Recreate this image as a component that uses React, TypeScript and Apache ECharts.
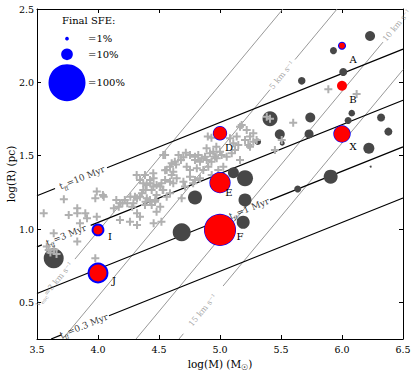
import React, { useEffect, useRef } from "react";
import * as echarts from "echarts";

// ---------------- data ----------------
const xTicks = [3.5, 4.0, 4.5, 5.0, 5.5, 6.0, 6.5];
const yTicks = [0.5, 1.0, 1.5, 2.0, 2.5];

// light-grey crosses (log M, log R)
const crossLogM = [
  3.555, 3.637, 3.596, 3.61, 3.64, 3.66, 3.58, 3.76, 3.83, 3.896, 3.91, 3.83, 3.978, 3.99, 3.72, 3.852,
  4.13, 4.18, 4.24, 4.28, 4.32, 4.39, 4.44, 4.456, 4.32, 4.344, 4.262, 4.48, 4.385, 4.426, 4.467, 4.18, 4.52,
  3.99, 4.047, 3.978, 3.83, 4.04, 4.15,
  4.22, 4.265, 4.29, 4.32, 4.17, 4.2, 4.36, 4.39, 4.40, 4.43, 4.44, 4.47, 4.55, 4.55, 4.51, 4.53, 4.456, 4.48, 4.52,
  4.344, 4.48, 4.51, 4.59, 4.617, 4.713, 4.686, 4.78,
  4.317, 4.344, 4.399, 4.454, 4.371, 4.303, 4.535, 4.563, 4.604,
  4.385, 4.426, 4.371,
  4.55, 4.63, 4.59, 4.617, 4.563, 4.727, 4.754, 4.81, 4.863, 4.904, 4.754, 4.795, 4.836, 4.604, 4.645, 4.59, 4.70,
  4.754, 4.795, 4.822, 4.85, 4.877, 4.795, 4.836, 4.891, 4.918, 4.945, 4.959, 5.0,
  4.93, 4.89, 4.97,
  4.93, 4.973, 5.014, 5.055, 5.096, 5.123, 5.15, 5.027, 4.986, 4.932,
  5.178, 5.137, 5.219, 5.273, 5.205, 5.246, 5.30, 5.232, 5.164, 5.082, 5.109,
  5.164, 5.246, 5.41, 5.60, 5.273, 5.45, 5.506, 5.383,
  5.888, 6.12,
  4.535, 4.453, 4.70, 4.68, 4.66, 4.72, 4.64, 4.9,
];
const crossLogR = [
  1.107, 0.971, 0.857, 0.84, 0.86, 0.83, 0.88, 1.096, 1.107, 1.107, 1.073, 0.914, 0.80, 1.084, 1.203, 1.039,
  1.141, 1.176, 1.176, 1.152, 1.107, 1.186, 1.164, 1.039, 1.028, 1.084, 1.05, 1.118, 1.164, 1.198, 1.186, 1.062, 1.05,
  1.255, 1.22, 1.21, 1.141, 1.232, 1.198,
  1.198, 1.22, 1.176, 1.21, 1.152, 1.176, 1.244, 1.266, 1.21, 1.312, 1.266, 1.198, 1.40, 1.334, 1.152, 1.266, 1.346, 1.30, 1.312,
  1.22, 1.232, 1.289, 1.244, 1.312, 1.289, 1.21, 1.312,
  1.368, 1.334, 1.30, 1.289, 1.266, 1.22, 1.266, 1.22, 1.448,
  1.368, 1.334, 1.312,
  1.505, 1.459, 1.425, 1.391, 1.402, 1.425, 1.402, 1.414, 1.402, 1.425, 1.357, 1.334, 1.346, 1.368, 1.346, 1.323, 1.323,
  1.505, 1.493, 1.505, 1.482, 1.493, 1.47, 1.459, 1.47, 1.516, 1.527, 1.493, 1.527,
  1.623, 1.55, 1.56,
  1.459, 1.482, 1.505, 1.493, 1.516, 1.539, 1.573, 1.425, 1.402, 1.368,
  1.709, 1.63, 1.675, 1.653, 1.607, 1.63, 1.607, 1.573, 1.47, 1.618, 1.584,
  1.698, 1.561, 1.752, 1.725, 1.595, 1.539, 1.607, 1.766,
  1.953, 1.92,
  1.505, 1.38, 1.49, 1.47, 1.505, 1.52, 1.44, 1.63,
];

// dark-grey clumps (log M, log R, marker diameter)
const clumpLogM = [6.23, 5.93, 6.01, 5.67, 6.08, 6.05, 6.32, 5.74, 5.41, 5.49, 5.51, 5.73, 6.38, 6.22, 6.235, 5.907, 5.637, 5.31, 5.205, 5.11, 4.795, 5.205, 5.19, 4.686, 3.637];
const clumpLogR = [2.316, 2.216, 2.07, 2.01, 1.79, 1.74, 1.76, 1.76, 1.752, 1.646, 1.585, 1.648, 1.664, 1.55, 1.425, 1.357, 1.273, 1.595, 1.346, 1.384, 1.215, 1.198, 1.046, 0.978, 0.80];
const clumpSize = [10, 7, 8, 7.5, 6.5, 7, 8, 10, 15, 10, 5, 9, 8, 11, 2, 14, 7, 6.5, 16, 11, 14, 13, 13, 18, 20];

// labelled regions: red marker with final SFE (blue) underneath
const regionNames = ["A", "B", "D", "E", "F", "I", "J", "X"];
const regionLogM = [6.0, 6.0, 5.0, 5.0, 5.0, 4.0, 4.0, 6.0];
const regionLogR = [2.25, 1.977, 1.653, 1.316, 0.994, 0.994, 0.70, 1.648];
const regionSize = [6, 10, 13, 20, 31, 9, 17, 16];
const regionSFE = [4.7, 1, 15, 33, 75, 12, 32, 22]; // percent

const legendSFE = [1, 10, 100];
const legendText = ["=1%", "=10%", "=100%"];

// free-fall time isochrones: logR = logM/3 + c(t)
const tffMyr = [10, 3, 1, 0.3];
const tffIntercept10 = 0.06;
// escape-velocity lines: logR = logM + b(v)
const vescKms = [3, 5, 10, 15];
const vescIntercept3 = -3.016;

// ---------------- layout / style ----------------
const FONT = "DejaVu Serif";
const W = 415, H = 373;
const G = { left: 37, right: 12, top: 9, bottom: 34 };
const X0 = 3.5, X1 = 6.5, Y0 = 0.25, Y1 = 2.5;
const pxPerX = (W - G.left - G.right) / (X1 - X0);
const pxPerY = (H - G.top - G.bottom) / (Y1 - Y0);

const tffGaps = [[3.648, 4.074], [3.54, 3.94], [5.066, 5.41], [3.70, 4.09]];
const tffLabelM = [3.869, 3.738, 5.238, 3.885];
const vescGaps = [[3.5, 3.811], [5.41, 5.615], [6.336, 6.7], [4.70, 5.025]];
const vescLabelM = [3.64, 5.508, 6.45, 4.86];
const regionLabelOffset = [[11, 14], [11, 14], [9, 14], [9, 10], [20, 7], [12, 7], [16, 7], [11, 13]];

const LEGEND_MAX_D = 37;
const sfeDiameter = (s: number) => LEGEND_MAX_D * Math.sqrt(s / 100);

function segments(a: number, b: number, gap: number[]) {
  const lo = Math.max(X0, (Y0 - b) / a);
  const hi = Math.min(X1, (Y1 - b) / a);
  const segs: number[][][] = [];
  if (gap[0] > lo) segs.push([[lo, a * lo + b], [Math.min(gap[0], hi), a * Math.min(gap[0], hi) + b]]);
  if (gap[1] < hi) {
    const s = Math.max(gap[1], lo);
    segs.push([[s, a * s + b], [hi, a * hi + b]]);
  }
  return segs;
}

function buildOption() {
  const series: any[] = [];
  const vAngle = (Math.atan((1 * pxPerY) / pxPerX) * 180) / Math.PI;
  const tAngle = (Math.atan(((1 / 3) * pxPerY) / pxPerX) * 180) / Math.PI;

  // escape velocity lines
  vescKms.forEach((v, i) => {
    const b = vescIntercept3 - 2 * Math.log10(v / 3);
    segments(1, b, vescGaps[i]).forEach((seg) => {
      series.push({
        type: "line", data: seg, symbol: "none", silent: true, z: 1,
        lineStyle: { color: "#8c8c8c", width: 0.9 },
      });
    });
    const m = vescLabelM[i];
    const fmt = i === 0 ? `{g|v}{gs|esc}{g|=${v} km s\u207B\u00B9}` : `{g|${v} km s\u207B\u00B9}`;
    series.push({
      type: "scatter", data: [[m, m + b]], symbolSize: 1, z: 6, silent: true,
      itemStyle: { color: "transparent" },
      label: {
        show: true, position: "inside", rotate: vAngle, formatter: fmt,
        rich: {
          g: { fontFamily: FONT, fontSize: 8, color: "#8c8c8c", lineHeight: 11, verticalAlign: "middle" },
          gs: { fontFamily: FONT, fontSize: 5.5, color: "#8c8c8c", lineHeight: 11, verticalAlign: "bottom" },
        },
      },
    });
  });

  // free-fall isochrones
  tffMyr.forEach((t, i) => {
    const c = tffIntercept10 + (2 / 3) * Math.log10(t / 10);
    segments(1 / 3, c, tffGaps[i]).forEach((seg) => {
      series.push({
        type: "line", data: seg, symbol: "none", silent: true, z: 1,
        lineStyle: { color: "#000", width: 1.2 },
      });
    });
    const m = tffLabelM[i];
    series.push({
      type: "scatter", data: [[m, m / 3 + c]], symbolSize: 1, z: 6, silent: true,
      itemStyle: { color: "transparent" },
      label: {
        show: true, position: "inside", rotate: tAngle,
        formatter: `{t|t}{s|ff}{t|=${t} Myr}`,
        rich: {
          t: { fontFamily: FONT, fontSize: 9, color: "#000", lineHeight: 13, verticalAlign: "middle" },
          s: { fontFamily: FONT, fontSize: 6, color: "#000", lineHeight: 13, verticalAlign: "bottom" },
        },
      },
    });
  });

  // dark clumps
  series.push({
    type: "scatter", z: 2, silent: true,
    data: clumpLogM.map((m, i) => ({ value: [m, clumpLogR[i]], symbolSize: clumpSize[i] })),
    itemStyle: { color: "#474747", opacity: 1 },
  });

  // crosses
  series.push({
    type: "scatter", z: 3, silent: true,
    symbol: "path://M3,0H5V3H8V5H5V8H3V5H0V3H3Z", symbolSize: 8,
    data: crossLogM.map((m, i) => [m, crossLogR[i]]),
    itemStyle: { color: "#b0b0b0", opacity: 1 },
  });

  // final SFE (blue)
  series.push({
    type: "scatter", z: 4, silent: true,
    data: regionLogM.map((m, i) => ({ value: [m, regionLogR[i]], symbolSize: sfeDiameter(regionSFE[i]) })),
    itemStyle: { color: "#0000ff", opacity: 1 },
  });

  // red regions with letters
  series.push({
    type: "scatter", z: 5, silent: true,
    data: regionLogM.map((m, i) => ({
      value: [m, regionLogR[i]], name: regionNames[i], symbolSize: regionSize[i],
      label: { offset: regionLabelOffset[i] },
    })),
    itemStyle: { color: "#ff0000", opacity: 1 },
    label: {
      show: true, position: "inside", formatter: (p: any) => p.name,
      fontFamily: FONT, fontSize: 10, color: "#000",
    },
  });

  const axisCommon = {
    type: "value",
    axisLine: { show: true, onZero: false, lineStyle: { color: "#000", width: 1 } },
    splitLine: { show: false },
  };

  const legendY = [38.7, 54.3, 82.7];
  const graphic: any[] = [
    {
      type: "text", x: 62, y: 20.5, z: 10,
      style: { text: "Final SFE:", font: `10px "${FONT}"`, fill: "#000", verticalAlign: "middle" },
    },
    {
      type: "text", x: 11, y: (G.top + (H - G.bottom)) / 2, rotation: Math.PI / 2, z: 10,
      style: {
        text: "log(R) (pc)", font: `10.5px "${FONT}"`, fill: "#000",
        align: "center", verticalAlign: "middle",
      },
    },
  ];
  legendSFE.forEach((s, i) => {
    graphic.push({
      type: "circle", z: 10, shape: { cx: 67, cy: legendY[i], r: sfeDiameter(s) / 2 },
      style: { fill: "#0000ff" },
    });
    graphic.push({
      type: "text", x: 88, y: legendY[i], z: 10,
      style: { text: legendText[i], font: `10px "${FONT}"`, fill: "#000", verticalAlign: "middle" },
    });
  });

  return {
    animation: false,
    backgroundColor: "#fff",
    grid: { ...G, containLabel: false, outerBoundsMode: "none" },
    xAxis: [
      {
        ...axisCommon, position: "bottom", min: X0, max: X1, interval: 0.5,
        axisTick: { show: true, inside: true, length: 4, lineStyle: { color: "#000" } },
        axisLabel: {
          show: true, margin: 5, fontFamily: FONT, fontSize: 9.5, color: "#000",
          formatter: (v: number) => v.toFixed(1),
        },
        name: "{a|log(M) (M}{s|\u2609}{a|)}",
        nameLocation: "middle", nameGap: 15,
        nameTextStyle: {
          rich: {
            a: { fontFamily: FONT, fontSize: 10.5, color: "#000", lineHeight: 14, verticalAlign: "middle" },
            s: { fontFamily: FONT, fontSize: 7.5, color: "#000", lineHeight: 14, verticalAlign: "bottom" },
          },
        },
      },
      {
        ...axisCommon, position: "top", min: X0, max: X1, interval: 0.5,
        axisTick: { show: true, inside: true, length: 4, lineStyle: { color: "#000" } },
        axisLabel: { show: false },
      },
    ],
    yAxis: [
      {
        ...axisCommon, position: "left", min: Y0, max: Y1,
        axisTick: { show: true, inside: true, length: 4, customValues: yTicks, lineStyle: { color: "#000" } },
        axisLabel: {
          show: true, margin: 3, fontFamily: FONT, fontSize: 9.5, color: "#000", customValues: yTicks,
          formatter: (v: number) => v.toFixed(1),
        },
      },
      {
        ...axisCommon, position: "right", min: Y0, max: Y1,
        axisTick: { show: true, inside: true, length: 4, customValues: yTicks, lineStyle: { color: "#000" } },
        axisLabel: { show: false },
      },
    ],
    series,
    graphic,
  };
}

export default function App() {
  const ref = useRef<HTMLDivElement>(null);
  useEffect(() => {
    if (!ref.current) return;
    const chart = echarts.init(ref.current, null, { renderer: "svg" });
    chart.setOption(buildOption() as any);
    return () => chart.dispose();
  }, []);
  return (
    <div
      ref={ref}
      style={{ position: "fixed", left: 0, top: 0, width: W, height: H, background: "#fff" }}
    />
  );
}
